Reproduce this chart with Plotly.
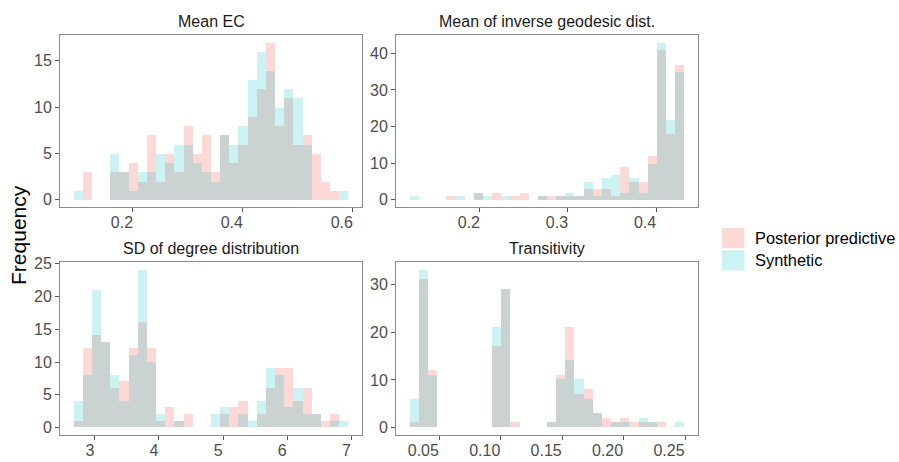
import plotly.graph_objects as go

# ---- histogram data: 30 equal-width bins per statistic ----
ec_bin_start, ec_bin_width = 0.0923, 0.01665
ec_posterior = [0, 3, 0, 0, 3, 3, 4, 2, 7, 2, 5, 3, 8, 5, 7, 3, 7, 4, 6, 9, 12, 17, 8, 11, 6, 7, 5, 2, 1, 0]
ec_synthetic = [1, 0, 0, 0, 5, 3, 1, 3, 3, 5, 4, 6, 6, 4, 3, 2, 7, 6, 8, 13, 16, 14, 10, 12, 11, 6, 0, 0, 0, 1]

igd_bin_start, igd_bin_width = 0.1204, 0.010387
igd_posterior = [0, 0, 0, 0, 1, 0, 0, 2, 0, 2, 0, 1, 2, 0, 1, 1, 1, 1, 1, 3, 3, 3, 1, 9, 5, 5, 12, 41, 18, 37]
igd_synthetic = [1, 0, 0, 0, 0, 1, 0, 2, 1, 0, 1, 0, 0, 0, 1, 0, 1, 2, 1, 5, 1, 6, 7, 2, 6, 2, 10, 43, 22, 35]

sdd_bin_start, sdd_bin_width = 2.671, 0.1427
sdd_posterior = [1, 12, 14, 13, 6, 7, 12, 16, 12, 1, 3, 1, 2, 0, 0, 0, 2, 3, 4, 0, 2, 6, 9, 9, 4, 6, 2, 1, 2, 0]
sdd_synthetic = [4, 8, 21, 13, 8, 4, 11, 24, 10, 2, 0, 1, 0, 0, 0, 2, 3, 0, 2, 1, 4, 9, 8, 3, 6, 2, 2, 0, 1, 1]

tr_bin_start, tr_bin_width = 0.0259, 0.00745
tr_posterior = [1, 31, 12, 0, 0, 0, 0, 0, 0, 17, 29, 1, 0, 0, 0, 1, 11, 21, 7, 8, 3, 2, 1, 2, 1, 1, 1, 1, 0, 0]
tr_synthetic = [6, 33, 11, 0, 0, 0, 0, 0, 0, 21, 29, 0, 0, 0, 0, 1, 10, 14, 10, 6, 3, 0, 1, 1, 0, 2, 1, 0, 0, 1]

panel_titles = ["Mean EC", "Mean of inverse geodesic dist.",
                "SD of degree distribution", "Transitivity"]
group_names = ["Posterior predictive", "Synthetic"]

ec_xticks = [0.2, 0.4, 0.6]
igd_xticks = [0.2, 0.3, 0.4]
sdd_xticks = [3, 4, 5, 6, 7]
tr_xticks = [0.05, 0.10, 0.15, 0.20, 0.25]
tr_xlabels = ["0.05", "0.10", "0.15", "0.20", "0.25"]
ec_yticks = [0, 5, 10, 15]
igd_yticks = [0, 10, 20, 30, 40]
sdd_yticks = [0, 5, 10, 15, 20, 25]
tr_yticks = [0, 10, 20, 30]

# ---- styling ----
W, H = 899, 462
FONT = "Liberation Sans, Arial, sans-serif"
PINK = "rgba(248,118,109,0.28)"
CYAN = "rgba(0,191,196,0.20)"
AXIS_TEXT = "#4D4D4D"
BORDER = "#8C8C8C"

# panel boxes in pixels: left, right, top, bottom
boxes = [(60, 362, 28, 204), (396, 698, 28, 204),
         (60, 362, 260, 436), (396, 698, 260, 436)]

panels = [
    (ec_bin_start, ec_bin_width, ec_posterior, ec_synthetic, ec_xticks, None, ec_yticks, -11),
    (igd_bin_start, igd_bin_width, igd_posterior, igd_synthetic, igd_xticks, None, igd_yticks, -11),
    (sdd_bin_start, sdd_bin_width, sdd_posterior, sdd_synthetic, sdd_xticks, None, sdd_yticks, -5),
    (tr_bin_start, tr_bin_width, tr_posterior, tr_synthetic, tr_xticks, tr_xlabels, tr_yticks, -16),
]

fig = go.Figure()
layout = {}
annotations = []

for k, (start, width, post, synth, xt, xl, yt, shift) in enumerate(panels):
    n = k + 1
    xa = "x" if n == 1 else f"x{n}"
    ya = "y" if n == 1 else f"y{n}"
    centers = [start + width * (i + 0.5) for i in range(len(post))]
    for counts, color, name in ((post, PINK, group_names[0]), (synth, CYAN, group_names[1])):
        fig.add_trace(go.Bar(x=centers, y=counts, width=width, name=name,
                             marker=dict(color=color, line=dict(width=0)),
                             xaxis=xa, yaxis=ya, showlegend=False))
    l, r, t, b = boxes[k]
    span = width * len(post)
    ymax = max(max(post), max(synth))
    common = dict(showgrid=False, zeroline=False, showline=True, mirror=True,
                  linecolor=BORDER, linewidth=1, ticks="outside", ticklen=4,
                  tickcolor="#555555", tickwidth=1,
                  tickfont=dict(family=FONT, size=16, color=AXIS_TEXT))
    layout["xaxis" if n == 1 else f"xaxis{n}"] = dict(
        common, domain=[l / W, r / W], anchor=ya,
        range=[start - 0.05 * span, start + 1.05 * span],
        tickvals=xt, ticktext=xl if xl else [f"{v:g}" for v in xt],
        ticklabelshift=shift, ticklabelstandoff=-4)
    layout["yaxis" if n == 1 else f"yaxis{n}"] = dict(
        common, domain=[1 - b / H, 1 - t / H], anchor=xa,
        range=[-0.05 * ymax, 1.05 * ymax], tickvals=yt, ticklabelstandoff=0)
    annotations.append(dict(text=panel_titles[k], x=(l + r) / 2 / W, y=1 - t / H,
                            xref="paper", yref="paper", xanchor="center", yanchor="bottom",
                            showarrow=False, yshift=3,
                            font=dict(family=FONT, size=16, color="#1A1A1A")))

annotations.append(dict(text="Frequency", x=19 / W, y=1 - 232 / H, xref="paper", yref="paper",
                        xanchor="center", yanchor="middle", textangle=-90, showarrow=False,
                        font=dict(family=FONT, size=21, color="#000000")))

# legend drawn as keys + labels
shapes = []
key_rows = [(225, 245.5, PINK), (247.5, 268, CYAN)]
for (ty, by, color), label in zip(key_rows, group_names):
    shapes.append(dict(type="rect", xref="paper", yref="paper",
                       x0=722 / W, x1=744.5 / W, y0=1 - by / H, y1=1 - ty / H,
                       fillcolor=color, line=dict(width=0)))
    annotations.append(dict(text=label, x=753 / W, y=1 - (ty + by) / 2 / H,
                            xref="paper", yref="paper", xanchor="left", yanchor="middle",
                            showarrow=False, font=dict(family=FONT, size=16.4, color="#000000")))

fig.update_layout(
    width=W, height=H, margin=dict(l=0, r=0, t=0, b=0),
    paper_bgcolor="white", plot_bgcolor="white",
    barmode="overlay", bargap=0, hovermode=False, showlegend=False,
    annotations=annotations, shapes=shapes, **layout)

fig.write_html("out.html", config={"displayModeBar": False})
